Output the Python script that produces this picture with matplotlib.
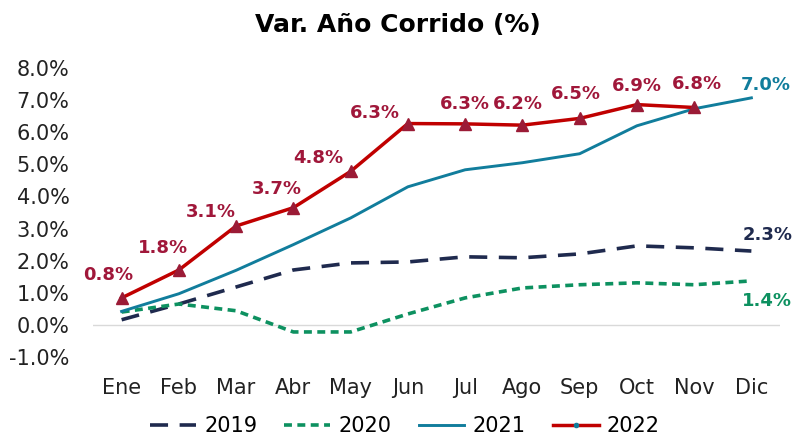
import numpy as np
import matplotlib.pyplot as plt
from matplotlib.lines import Line2D
from matplotlib.ticker import FuncFormatter

plt.rcParams['font.family'] = ['DejaVu Sans']

# datos (% variacion ano corrido)
meses = ["Ene", "Feb", "Mar", "Abr", "May", "Jun", "Jul", "Ago", "Sep", "Oct", "Nov", "Dic"]
v2019 = [0.16, 0.65, 1.18, 1.71, 1.93, 1.96, 2.12, 2.09, 2.21, 2.46, 2.40, 2.30]
v2020 = [0.40, 0.65, 0.44, -0.22, -0.22, 0.34, 0.84, 1.15, 1.25, 1.31, 1.25, 1.37]
v2021 = [0.42, 0.97, 1.70, 2.50, 3.33, 4.30, 4.83, 5.05, 5.33, 6.20, 6.73, 7.07]
v2022 = [0.84, 1.71, 3.08, 3.65, 4.78, 6.27, 6.26, 6.22, 6.43, 6.86, 6.77]
etq2022 = ["0.8%", "1.8%", "3.1%", "3.7%", "4.8%", "6.3%", "6.3%", "6.2%", "6.5%", "6.9%", "6.8%"]

c19 = "#1f2a4e"
c20 = "#0d9160"
c21 = "#117d9c"
c22 = "#c00000"
cmk = "#9b1b36"
clab = "#a0173a"

fig = plt.figure(figsize=(7.96, 4.38), dpi=100)
ax = fig.add_axes([93 / 796, 81 / 438, 687 / 796, 289 / 438])
x = np.arange(len(meses))

ax.axhline(0, color="#d9d9d9", lw=1, zorder=0)
l19, = ax.plot(x, v2019, color=c19, lw=2.6, dashes=(5, 3.2), label="2019")
l20, = ax.plot(x, v2020, color=c20, lw=2.6, dashes=(2.2, 1.5), label="2020")
l21, = ax.plot(x, v2021, color=c21, lw=2.1, label="2021")
ax.plot(x[:len(v2022)], v2022, color=c22, lw=2.5, marker="^", ms=9,
        mfc=cmk, mec=cmk, label="2022")
# handle de leyenda con marcador pequeno
h22 = Line2D([], [], color=c22, lw=2.5, marker="o", ms=3, mfc=c21, mec=c21)

# etiquetas 2022
offs = [(-13, 23), (-16, 22), (-25, 14), (-17, 19), (-32, 13), (-33, 11),
        (0, 20), (-5, 21), (-4, 24), (0, 19), (3, 23)]
for i, (t, o) in enumerate(zip(etq2022, offs)):
    ax.annotate(t, (x[i], v2022[i]), xytext=o, textcoords="offset pixels",
                ha="center", va="center", fontsize=13, fontweight="bold", color=clab)

ax.annotate("7.0%", (x[11], v2021[11]), xytext=(14, 13), textcoords="offset pixels",
            ha="center", va="center", fontsize=13, fontweight="bold", color=c21)
ax.annotate("2.3%", (x[11], v2019[11]), xytext=(16, 16), textcoords="offset pixels",
            ha="center", va="center", fontsize=13, fontweight="bold", color=c19)
ax.annotate("1.4%", (x[11], v2020[11]), xytext=(16, -20), textcoords="offset pixels",
            ha="center", va="center", fontsize=13, fontweight="bold", color=c20)

ax.set_xlim(-0.5, 11.5)
ax.set_ylim(-1, 8)
ax.set_yticks(np.arange(-1, 9, 1))
ax.yaxis.set_major_formatter(FuncFormatter(lambda v, p: f"{v:.1f}%"))
ax.set_xticks(x)
ax.set_xticklabels(meses)
ax.tick_params(length=0, labelsize=15, colors="#222222")
ax.tick_params(axis="x", pad=15)
ax.tick_params(axis="y", pad=17)
for s in ax.spines.values():
    s.set_visible(False)

fig.text(0.5, 0.943, "Var. Año Corrido (%)", ha="center", va="center",
         fontsize=18, fontweight="bold")
ax.legend([l19, l20, l21, h22], ["2019", "2020", "2021", "2022"],
          loc="center", bbox_to_anchor=(0.454, -0.24), ncol=4, frameon=False,
          fontsize=15, handlelength=2.2, columnspacing=1.3, handletextpad=0.4)

fig.savefig("out.png", dpi=100)
